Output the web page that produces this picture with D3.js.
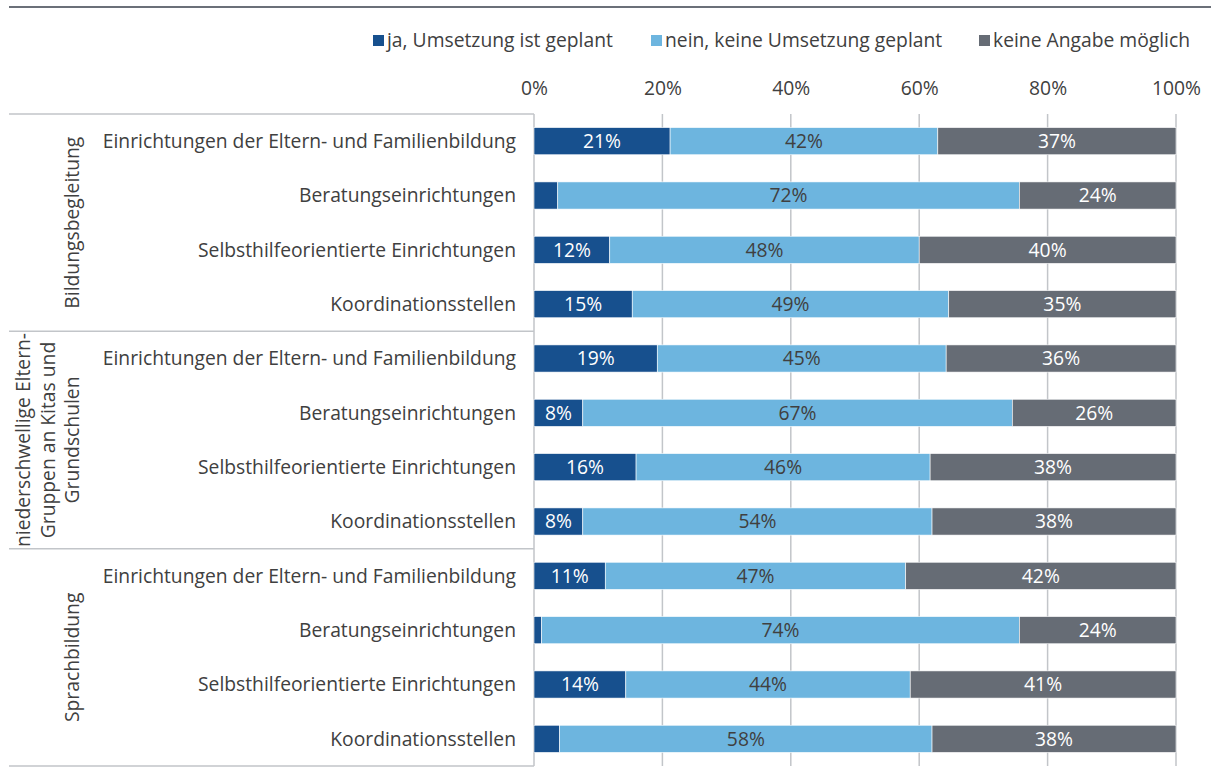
<!DOCTYPE html>
<html>
<head>
<meta charset="utf-8">
<script src="https://cdn.jsdelivr.net/npm/d3@7"></script>
<style>
  body { margin: 0; background: #fff; }
  text { font-family: "Open Sans", "Liberation Sans", Arial, sans-serif; }
</style>
</head>
<body>
<svg width="1211" height="769"></svg>
<script>
// series (legend order)
const seriesNames = ["ja, Umsetzung ist geplant", "nein, keine Umsetzung geplant", "keine Angabe möglich"];
const seriesColors = ["#17508e", "#6db5df", "#666c75"];
const labelColors = ["#ffffff", "#404040", "#ffffff"];

// groups and categories
const groupNames = [
  ["Bildungsbegleitung"],
  ["niederschwellige Eltern-", "Gruppen an Kitas und", "Grundschulen"],
  ["Sprachbildung"]
];
const categories = [
  "Einrichtungen der Eltern- und Familienbildung",
  "Beratungseinrichtungen",
  "Selbsthilfeorientierte Einrichtungen",
  "Koordinationsstellen"
];

// values in %, 12 rows (3 groups x 4 categories)
const jaValues    = [21.2, 3.7, 11.8, 15.3,  19.2, 7.6, 15.9, 7.6,  11.1, 1.2, 14.3, 4.0];
const neinValues  = [41.7, 71.9, 48.2, 49.3, 45.0, 66.9, 45.8, 54.4, 46.8, 74.4, 44.3, 58.0];
const keineValues = [37.1, 24.4, 40.0, 35.4, 35.8, 25.5, 38.3, 38.0, 42.1, 24.4, 41.4, 38.0];

const tickValues = [0, 20, 40, 60, 80, 100];

const svg = d3.select("svg"),
  width = +svg.attr("width"),
  height = +svg.attr("height");

const margin = {top: 114, right: 35, bottom: 3, left: 534};
const fontSize = 19.3;
const textColor = "#404040";
const lineColor = "#c2c5c9";

const rows = [];
groupNames.forEach((g, gi) => {
  categories.forEach((c, ci) => {
    const i = gi * categories.length + ci;
    rows.push({id: i, group: gi, category: c, ja: jaValues[i], nein: neinValues[i], keine: keineValues[i]});
  });
});

const x = d3.scaleLinear()
  .domain([0, 100])
  .range([margin.left, width - margin.right]);

const y = d3.scaleBand()
  .domain(rows.map(d => d.id))
  .range([margin.top, height - margin.bottom])
  .paddingInner(0.5)
  .paddingOuter(0.25);

const keys = ["ja", "nein", "keine"];
const stacked = d3.stack().keys(keys)(rows);

// top rule
svg.append("line")
  .attr("x1", 9).attr("x2", width)
  .attr("y1", 7).attr("y2", 7)
  .attr("stroke", "#6b7079")
  .attr("stroke-width", 2);

// legend
const legendX = [373, 651, 979];
const legend = svg.append("g");
seriesNames.forEach((name, i) => {
  const g = legend.append("g").attr("transform", `translate(${legendX[i]},40)`);
  g.append("rect").attr("x", 0).attr("y", -5).attr("width", 11).attr("height", 11)
    .attr("fill", seriesColors[i]);
  g.append("text").attr("x", 14).attr("y", 0).attr("dy", "0.35em")
    .attr("font-size", fontSize).attr("fill", textColor).text(name);
});

// gridlines
svg.append("g")
  .selectAll("line")
  .data(tickValues.filter(t => t > 0))
  .join("line")
    .attr("x1", d => x(d)).attr("x2", d => x(d))
    .attr("y1", margin.top).attr("y2", height - margin.bottom)
    .attr("stroke", lineColor)
    .attr("stroke-width", 1.5);

// x axis on top
const xAxis = svg.append("g")
  .attr("transform", `translate(0,${margin.top - 16})`)
  .call(d3.axisTop(x).tickValues(tickValues).tickSize(0).tickFormat(d => d + "%"));
xAxis.select(".domain").remove();
xAxis.selectAll("text")
  .attr("font-size", fontSize)
  .attr("fill", textColor)
  .style("font-family", "'Open Sans', 'Liberation Sans', Arial, sans-serif");

// left table lines (group boundaries)
const boundaries = d3.range(groupNames.length + 1).map(k => margin.top + k * categories.length * y.step());
svg.append("g")
  .selectAll("line")
  .data(boundaries)
  .join("line")
    .attr("x1", 9).attr("x2", margin.left)
    .attr("y1", d => d).attr("y2", d => d)
    .attr("stroke", lineColor)
    .attr("stroke-width", 1.5);

// vertical axis line
svg.append("line")
  .attr("x1", x(0)).attr("x2", x(0))
  .attr("y1", margin.top).attr("y2", height - margin.bottom)
  .attr("stroke", lineColor)
  .attr("stroke-width", 1.5);

// bars
const layer = svg.append("g")
  .selectAll("g")
  .data(stacked)
  .join("g")
    .attr("fill", (d, i) => seriesColors[i]);

layer.selectAll("rect")
  .data(d => d)
  .join("rect")
    .attr("x", d => x(d[0]))
    .attr("y", d => y(d.data.id))
    .attr("width", d => x(d[1]) - x(d[0]))
    .attr("height", y.bandwidth())
    .attr("stroke", "#ffffff")
    .attr("stroke-width", 0.6);

// value labels
svg.append("g")
  .selectAll("g")
  .data(stacked)
  .join("g")
    .attr("fill", (d, i) => labelColors[i])
  .selectAll("text")
  .data(d => d.filter(v => v[1] - v[0] >= 5))
  .join("text")
    .attr("x", d => (x(d[0]) + x(d[1])) / 2)
    .attr("y", d => y(d.data.id) + y.bandwidth() / 2)
    .attr("dy", "0.35em")
    .attr("text-anchor", "middle")
    .attr("font-size", fontSize)
    .text(d => Math.round(d[1] - d[0]) + "%");

// category labels
svg.append("g")
  .selectAll("text")
  .data(rows)
  .join("text")
    .attr("x", margin.left - 18)
    .attr("y", d => y(d.id) + y.bandwidth() / 2)
    .attr("dy", "0.35em")
    .attr("text-anchor", "end")
    .attr("font-size", fontSize)
    .attr("fill", textColor)
    .text(d => d.category);

// group labels (rotated)
const groupLabels = svg.append("g")
  .selectAll("text")
  .data(groupNames)
  .join("text")
    .attr("transform", (d, i) => {
      const cy = (boundaries[i] + boundaries[i + 1]) / 2;
      return `translate(79,${cy}) rotate(-90)`;
    })
    .attr("text-anchor", "middle")
    .attr("font-size", fontSize)
    .attr("fill", textColor);

groupLabels.selectAll("tspan")
  .data(d => d)
  .join("tspan")
    .attr("x", 0)
    .attr("y", (t, j, nodes) => (j - (nodes.length - 1)) * 24.5)
    .text(t => t);
</script>
</body>
</html>
